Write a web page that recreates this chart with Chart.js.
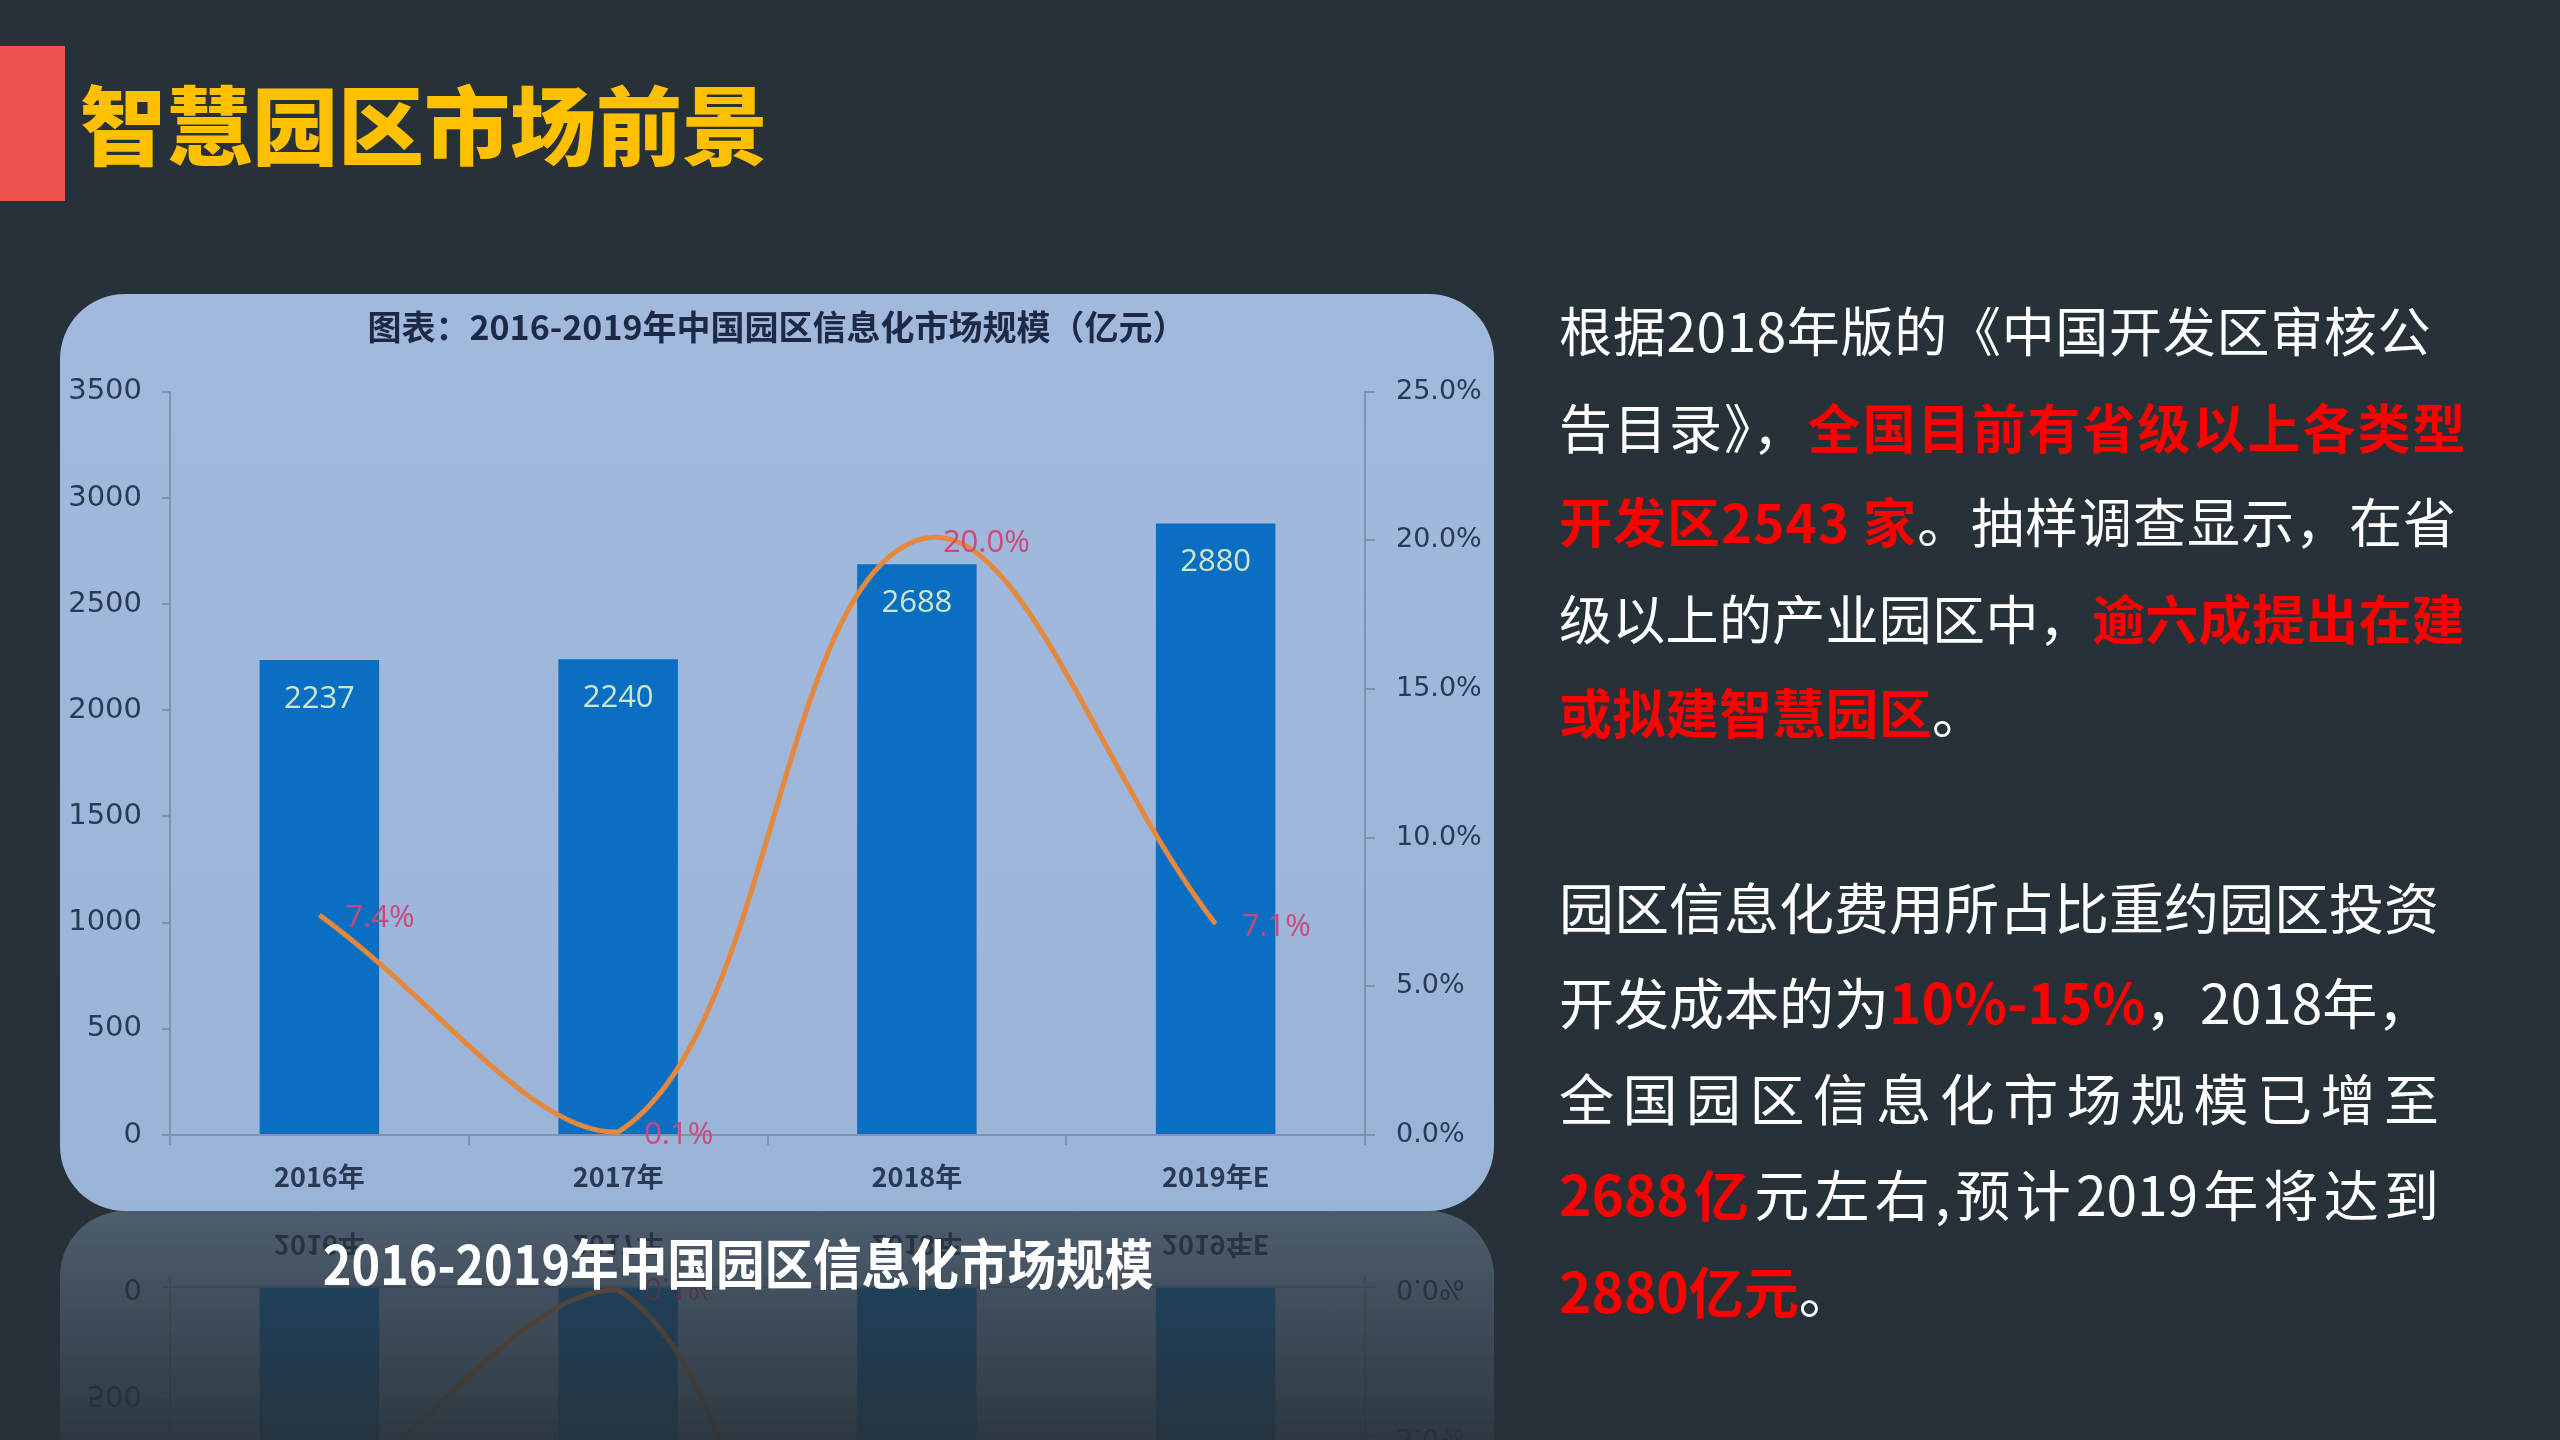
<!DOCTYPE html>
<html>
<head>
<meta charset="utf-8">
<script src="https://cdn.jsdelivr.net/npm/chart.js@4.4.1/dist/chart.umd.min.js"></script>
<style>
  html,body{margin:0;padding:0;}
  body{width:2560px;height:1440px;background:#273138;position:relative;overflow:hidden;font-family:"Noto Sans CJK SC","Noto Sans",sans-serif;}
  #redbar{position:absolute;left:0;top:46px;width:65px;height:155px;background:#ef5350;}
  #title{position:absolute;left:80px;top:79px;height:86px;line-height:86px;font-size:86px;font-weight:900;color:#ffc000;white-space:nowrap;}
  #panel{position:absolute;left:60px;top:294px;width:1434px;height:917px;border-radius:65px;overflow:hidden;
    background:linear-gradient(to bottom,#a1b9dc,#9ab4d8);
    -webkit-box-reflect:below 0px linear-gradient(to bottom,rgba(0,0,0,0) 70%,rgba(0,0,0,0.34) 100%);}
  #panel canvas{display:block;}
  #caption{position:absolute;left:238px;width:1000px;text-align:center;top:1234px;height:56px;line-height:56px;font-size:54px;font-weight:bold;color:#ffffff;white-space:nowrap;transform:scaleX(0.9);transform-origin:50% 50%;}
  .ln{position:absolute;left:1559px;height:96px;line-height:96px;font-size:53px;color:#ffffff;white-space:nowrap;}
  .p2{width:880px;font-size:55px;}
  .j{text-align:justify;text-align-last:justify;}
  .r{color:#ff0000;font-weight:bold;}
</style>
</head>
<body>
<div id="redbar"></div>
<div id="title">智慧园区市场前景</div>
<div id="panel"><canvas id="c" width="1434" height="917"></canvas></div>
<div id="caption">2016-2019年中国园区信息化市场规模</div>

<div class="ln" style="top:281px;letter-spacing:0.7px">根据2018年版的《中国开发区审核公</div>
<div class="ln" style="top:378px;letter-spacing:2px">告目录》，<span class="r">全国目前有省级以上各类型</span></div>
<div class="ln" style="top:472px;letter-spacing:1px"><span class="r">开发区2543 家</span>。抽样调查显示，在省</div>
<div class="ln" style="top:569px;letter-spacing:0.3px">级以上的产业园区中，<span class="r">逾六成提出在建</span></div>
<div class="ln" style="top:663px;letter-spacing:0.3px"><span class="r">或拟建智慧园区</span>。</div>

<div class="ln p2 j" style="top:857px">园区信息化费用所占比重约园区投资</div>
<div class="ln p2" style="top:952px">开发成本的为<span class="r">10%-15%</span>，2018年，</div>
<div class="ln p2 j" style="top:1048px">全国园区信息化市场规模已增至</div>
<div class="ln p2 j" style="top:1144px"><span class="r">2688亿</span>元左右,预计2019年将达到</div>
<div class="ln p2" style="top:1241px"><span class="r">2880亿元</span>。</div>

<script>
const categories = ["2016年", "2017年", "2018年", "2019年E"];
const marketSize = [2237, 2240, 2688, 2880];
const growthRate = [7.4, 0.1, 20.0, 7.1];
const leftTicks = [0, 3500, 500];
const rightTicks = [0, 25, 5];
const chartTitle = "图表：2016-2019年中国园区信息化市场规模（亿元）";

const axisColor = "#7f92b0";
const tickColor = "#2a3a55";

const labelPlugin = {
  id: "valueLabels",
  afterDatasetsDraw(chart) {
    const ctx = chart.ctx;
    ctx.save();
    const barMeta = chart.getDatasetMeta(1);
    ctx.font = "31px 'Open Sans', sans-serif";
    ctx.fillStyle = "#cde6c8";
    ctx.textAlign = "center";
    ctx.textBaseline = "middle";
    barMeta.data.forEach((el, i) => {
      ctx.fillText(String(marketSize[i]), el.x, el.y + 39);
    });
    const lineMeta = chart.getDatasetMeta(0);
    ctx.font = "31px 'Open Sans', sans-serif";
    ctx.fillStyle = "#cc4a7a";
    ctx.textAlign = "left";
    lineMeta.data.forEach((el, i) => {
      ctx.fillText(growthRate[i].toFixed(1) + "%", el.x + 26, el.y + 3);
    });
    ctx.restore();
  }
};

new Chart(document.getElementById("c"), {
  data: {
    labels: categories,
    datasets: [
      {
        type: "line",
        data: growthRate,
        yAxisID: "y1",
        borderColor: "#e5883c",
        borderWidth: 5,
        pointRadius: 0,
        tension: 0.4,
        fill: false,
        order: 0
      },
      {
        type: "bar",
        data: marketSize,
        yAxisID: "y",
        backgroundColor: "#0a6fc3",
        categoryPercentage: 1.0,
        barPercentage: 0.4,
        order: 1
      }
    ]
  },
  options: {
    responsive: false,
    devicePixelRatio: 1,
    animation: false,
    layout: { padding: 0 },
    plugins: {
      legend: { display: false },
      tooltip: { enabled: false },
      title: {
        display: true,
        text: chartTitle,
        color: "#1e2a45",
        font: { family: "'Noto Sans CJK SC'", size: 34, weight: "bold", lineHeight: 1.2 },
        padding: { top: 13, bottom: 44 }
      }
    },
    scales: {
      x: {
        afterFit(s) { s.height = 76; },
        grid: { offset: true, drawOnChartArea: false, drawTicks: true, tickLength: 10, color: axisColor, lineWidth: 2 },
        border: { color: axisColor, width: 2 },
        ticks: { padding: 16, color: tickColor, font: { family: "'Noto Sans CJK SC'", size: 27, weight: "bold" } }
      },
      y: {
        position: "left",
        min: leftTicks[0], max: leftTicks[1],
        afterFit(s) { s.width = 110; },
        grid: { drawOnChartArea: false, drawTicks: true, tickLength: 8, color: axisColor, lineWidth: 2 },
        border: { color: axisColor, width: 2 },
        ticks: { stepSize: leftTicks[2], padding: 20, color: tickColor, font: { family: "'DejaVu Sans'", size: 29 },
          callback: v => String(v) }
      },
      y1: {
        position: "right",
        min: rightTicks[0], max: rightTicks[1],
        afterFit(s) { s.width = 129; },
        grid: { drawOnChartArea: false, drawTicks: true, tickLength: 10, color: axisColor, lineWidth: 2 },
        border: { color: axisColor, width: 2 },
        ticks: { stepSize: rightTicks[2], padding: 21, color: tickColor, font: { family: "'DejaVu Sans'", size: 27 },
          callback: v => Number(v).toFixed(1) + "%" }
      }
    }
  },
  plugins: [labelPlugin]
});
</script>
</body>
</html>
